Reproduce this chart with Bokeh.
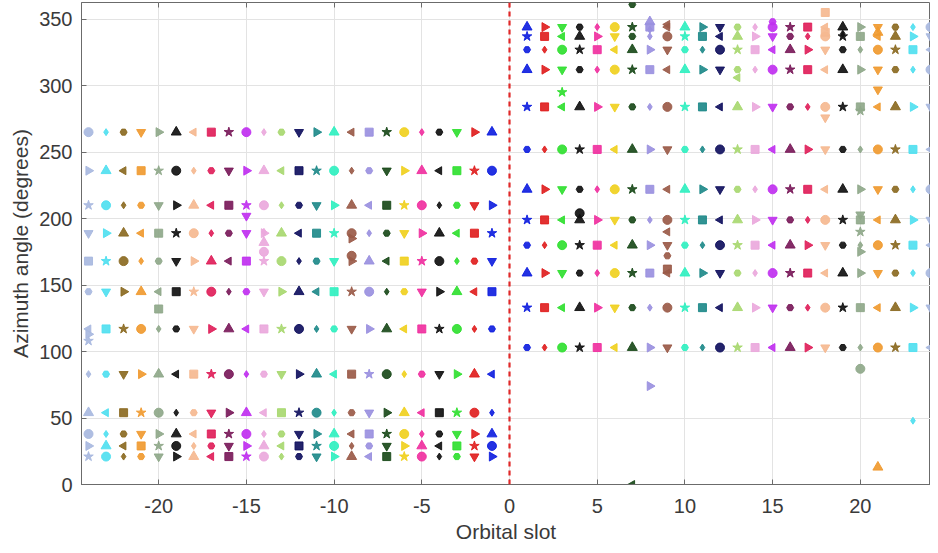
import math
from bokeh.plotting import figure
from bokeh.models import ColumnDataSource, Span, FixedTicker, Range1d, LinearAxis
from bokeh.embed import file_html
from bokeh.resources import INLINE

# ---- data ----
left_slots = list(range(-24, 0))
right_slots = list(range(1, 25))
left_rows = [265, 236, 210, 189, 168, 145, 117, 83, 54, 38, 29, 21]
right_rows = [344, 337, 327, 312, 284, 252, 222, 199, 180, 159, 133, 103]

# extra / stray satellites
extra_x = [-20, -15, 3, 8, 20, 21, 23, 7, 7, 18, 21, -24, -24, -14, -14, -14,
           9, 9, 9, 20, 20, 20, 4, 8, 8, 9, 15, 18, 18, 20, -9, -9, 21, 19, 13]
extra_y = [132, 202, 295, 74, 87, 13, 48, 0, 361, 355, 297, 108, 113, 175, 182, 190,
           190, 172, 162, 203, 190, 175, 204, 348, 342, 346, 348, 340, 276, 281, 185, 172, 340, 339, 306]

# colour of slots -24..-1 (mirrored for 24..1)
slot_palette = ["#a8b8e0", "#50e0f0", "#8b6a22", "#f09a30", "#8fa88a", "#111111",
                "#f5b890", "#e0205a", "#7a1a5a", "#c030f0", "#eaa8dc", "#a8d870",
                "#10105e", "#208a8a", "#30f0c0", "#9a5a48", "#9a90e0", "#1a4a1a",
                "#f0d020", "#f030a0", "#101010", "#30e030", "#e02020", "#1020e0"]

x_ticks = [-20, -15, -10, -5, 0, 5, 10, 15, 20]
x_tick_labels = ["-20", "-15", "-10", "-5", "0", "5", "10", "15", "20"]
y_ticks = [0, 50, 100, 150, 200, 250, 300, 350]

# ---- styling helpers ----
shapes = ["circle", "square", "triangle", "inverted_triangle", "diamond",
          "star", "tri_left", "tri_right", "hex"]
sizes = [9, 8, 10, 9, 7, 10, 8, 9, 7]


def slot_color(s):
    return slot_palette[s + 24] if s < 0 else slot_palette[24 - s]


xs, ys, cols, marks, angs, szs = [], [], [], [], [], []


def add(x, y, k):
    sh = shapes[k % len(shapes)]
    ang = 0.0
    if sh == "tri_left":
        sh, ang = "triangle", math.pi / 2
    elif sh == "tri_right":
        sh, ang = "triangle", -math.pi / 2
    xs.append(x)
    ys.append(y)
    cols.append(slot_color(x))
    marks.append(sh)
    angs.append(ang)
    szs.append(sizes[k % len(sizes)])


for i, s in enumerate(left_slots):
    for j, r in enumerate(left_rows):
        add(s, r, i * 4 + j * 7)
for i, s in enumerate(right_slots):
    for j, r in enumerate(right_rows):
        add(s, r, i * 5 + j * 3 + 2)
for k, (x, y) in enumerate(zip(extra_x, extra_y)):
    add(x, y, k * 2 + 1)

src = ColumnDataSource(dict(x=xs, y=ys, color=cols, marker=marks, angle=angs, size=szs))

p = figure(width=930, height=545, output_backend="svg", toolbar_location=None,
           x_range=Range1d(-24.4, 24.0), y_range=Range1d(0, 362.5),
           min_border_left=81, min_border_right=0, min_border_top=2, min_border_bottom=57)

p.scatter("x", "y", source=src, marker="marker", color="color", angle="angle",
          size="size", alpha=0.92)

p.add_layout(Span(location=0, dimension="height", line_color="#e02828",
                  line_width=2.2, line_dash="5 4"))

# inward ticks along the top edge (no labels)
top_ax = LinearAxis(ticker=FixedTicker(ticks=x_ticks), major_label_text_font_size="0px",
                    major_label_standoff=0, major_tick_in=5, major_tick_out=0,
                    minor_tick_line_color=None, axis_line_color=None,
                    major_tick_line_color="#6b6b6b", major_tick_line_width=1)
top_ax.major_label_overrides = {t: "" for t in x_ticks}
p.add_layout(top_ax, "above")

font = "Liberation Sans"
bx = p.below[0]
ly = p.left[0]
bx.ticker = FixedTicker(ticks=x_ticks)
bx.major_label_overrides = dict(zip(x_ticks, x_tick_labels))
ly.ticker = FixedTicker(ticks=y_ticks)
for ax in (bx, ly):
    ax.major_tick_in = 5
    ax.major_tick_out = 0
    ax.minor_tick_line_color = None
    ax.axis_line_color = "#6b6b6b"
    ax.major_tick_line_color = "#6b6b6b"
    ax.major_label_text_font = font
    ax.major_label_text_font_size = "20px"
    ax.major_label_text_color = "#3a3a3a"
    ax.axis_label_text_font = font
    ax.axis_label_text_font_size = "21px"
    ax.axis_label_text_font_style = "normal"
    ax.axis_label_text_color = "#3a3a3a"
bx.axis_label = "Orbital slot"
ly.axis_label = "Azimuth angle (degrees)"
bx.major_label_standoff = 14
ly.major_label_standoff = 9
bx.axis_label_standoff = 4
ly.axis_label_standoff = 4

p.xgrid.grid_line_color = "#e3e3e3"
p.xgrid.ticker = FixedTicker(ticks=x_ticks)
p.ygrid.grid_line_color = "#e3e3e3"
p.outline_line_color = "#6b6b6b"
p.background_fill_color = "white"
p.border_fill_color = "white"

open("out.html", "w").write(file_html(p, INLINE))
